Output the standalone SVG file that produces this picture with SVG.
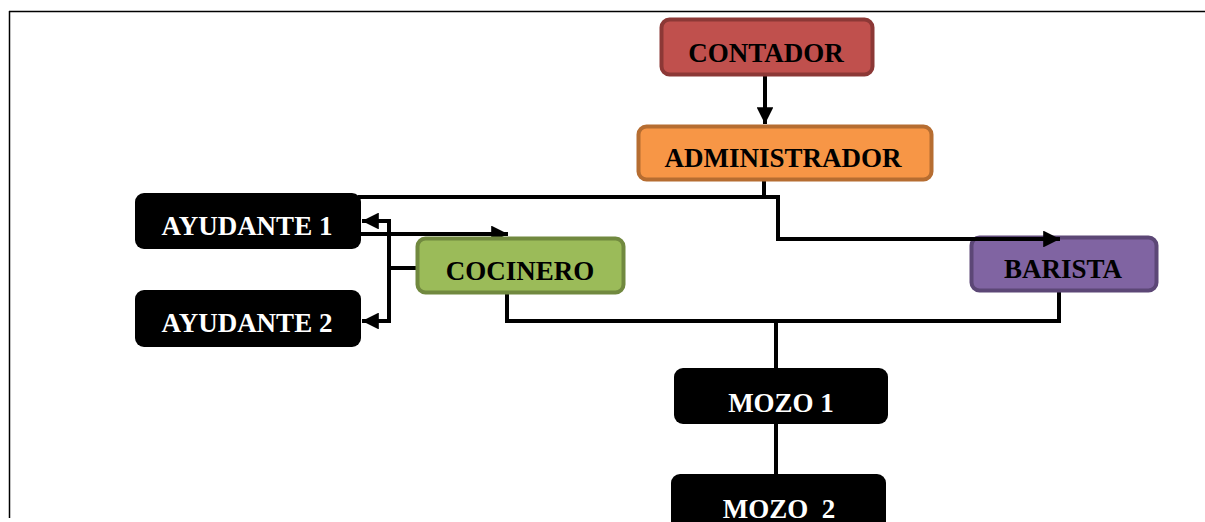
<svg xmlns="http://www.w3.org/2000/svg" width="1205" height="522" viewBox="0 0 1205 522">
<style>
.lbl{font-family:"Liberation Serif","Times New Roman",serif;font-weight:bold;font-size:27px;text-anchor:middle}
.dk{fill:#000}
.wt{fill:#fff}
.cn{fill:none;stroke:#000;stroke-width:4;stroke-linejoin:miter}
.blk{fill:#000}
.bx{stroke-width:4}
</style>
<defs>
<marker id="ah" viewBox="0 0 10 10" refX="10" refY="5" markerWidth="4.2" markerHeight="4.2" orient="auto" markerUnits="strokeWidth">
<path d="M0,0 L10,5 L0,10 z" fill="#000"/>
</marker>
</defs>
<rect x="0" y="0" width="1205" height="522" fill="#fff"/>
<path d="M9,11.5 H1205 M9.5,11 V518" stroke="#000" stroke-width="1.5" fill="none"/>
<g id="connectors">
<path class="cn" d="M765,75 V124" marker-end="url(#ah)"/>
<path class="cn" d="M764,180 V197 M358,197 H764"/>
<path class="cn" d="M360,234 H508" marker-end="url(#ah)"/>
<path class="cn" d="M418,268 H389 V221 H362" marker-end="url(#ah)"/>
<path class="cn" d="M389,268 V321 H362" marker-end="url(#ah)"/>
<path class="cn" d="M507,293 V321 H1059 V291"/>
<path class="cn" d="M776,321 V370 M776,424 V476"/>
</g>
<g id="contador">
<rect x="661.5" y="19.5" width="211" height="55" rx="8" fill="#c0504d" stroke="#8c3836" class="bx"/>
<text class="lbl dk" x="766" y="62" font-size="28">CONTADOR</text>
</g>
<g id="administrador">
<rect x="638.5" y="126.5" width="293" height="53" rx="8" fill="#f79646" stroke="#b66d31" class="bx"/>
<text class="lbl dk" x="783" y="167">ADMINISTRADOR</text>
</g>
<g id="ayudante1">
<rect x="135" y="193" width="226" height="56" rx="9" class="blk"/>
<text class="lbl wt" x="247" y="235">AYUDANTE 1</text>
</g>
<g id="ayudante2">
<rect x="135" y="290" width="226" height="57" rx="9" class="blk"/>
<text class="lbl wt" x="247" y="332">AYUDANTE 2</text>
</g>
<g id="cocinero">
<rect x="417.5" y="238.5" width="206" height="54" rx="8" fill="#9bbb59" stroke="#71893f" class="bx"/>
<text class="lbl dk" x="520" y="280">COCINERO</text>
</g>
<g id="barista">
<rect x="971.5" y="237.5" width="185" height="53" rx="8" fill="#8064a2" stroke="#5c4776" class="bx"/>
<text class="lbl dk" x="1063" y="278">BARISTA</text>
</g>
<g id="mozo1">
<rect x="674" y="368" width="214" height="56" rx="9" class="blk"/>
<text class="lbl wt" x="781" y="412">MOZO 1</text>
</g>
<g id="mozo2">
<rect x="671" y="474" width="215" height="60" rx="9" class="blk"/>
<text class="lbl wt" x="779" y="518" xml:space="preserve">MOZO  2</text>
</g>
<g id="connectors-top">
<path class="cn" d="M764,197 H778 V239 H1060" marker-end="url(#ah)"/>
</g>
</svg>
